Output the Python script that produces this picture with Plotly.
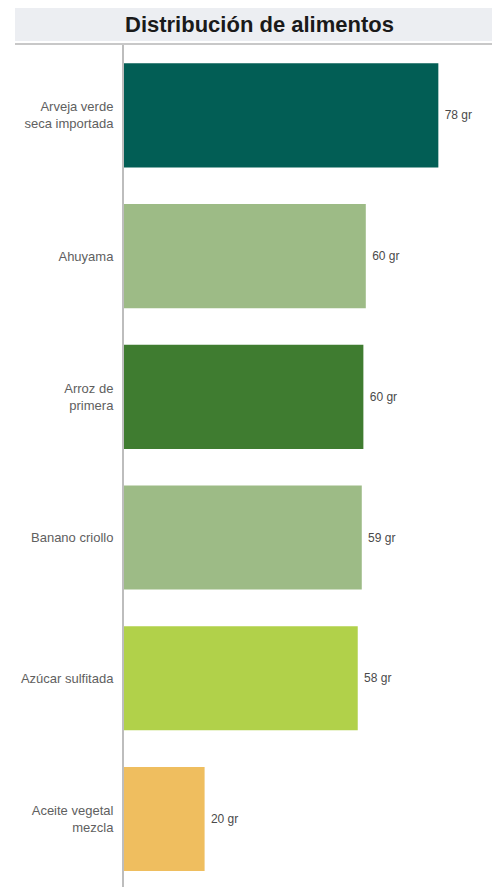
import plotly.graph_objects as go

alimentos = [
    'Arveja verde<br>seca importada',
    'Ahuyama',
    'Arroz de<br>primera',
    'Banano criollo',
    'Azúcar sulfitada',
    'Aceite vegetal<br>mezcla',
]
gramos = [78, 60, 59.4, 59, 58, 20]
etiquetas = ['78 gr', '60 gr', '60 gr', '59 gr', '58 gr', '20 gr']
colores = ['#025e55', '#9dbb86', '#3f7c30', '#9dbb86', '#b1d14a', '#efbe5f']

# the page body adds an 8px offset, so positions are given in page pixels and shifted
OFF = 8
W, H = 500, 887
ML, MT = 124 - OFF, 45 - OFF
pw, ph = W - ML, H - MT


def px_x(x):
    return (x - OFF - ML) / pw


def px_y(y):
    return (H - (y - OFF)) / ph


fig = go.Figure(
    go.Bar(
        x=gramos,
        y=alimentos,
        orientation='h',
        marker=dict(color=colores, line=dict(width=0)),
        text=etiquetas,
        texttemplate=' %{text}',
        textposition='outside',
        cliponaxis=False,
        textfont=dict(family='Liberation Sans, Arial', size=12, color='#4a4a4a'),
        hoverinfo='skip'))

fig.update_layout(
    width=W,
    height=H,
    margin=dict(l=ML, r=0, t=MT, b=0),
    paper_bgcolor='white',
    plot_bgcolor='white',
    bargap=0.26,
    showlegend=False,
    font=dict(family='Liberation Sans, Arial'),
    xaxis=dict(range=[0, pw / 4.03], visible=False),
    yaxis=dict(
        range=[5.54, -0.5],
        showline=True,
        linecolor='#bdbdbd',
        linewidth=2,
        showgrid=False,
        zeroline=False,
        ticks='',
        ticklabelstandoff=6,
        tickfont=dict(size=13, color='#606060')),
    shapes=[
        dict(type='rect', xref='paper', yref='paper',
             x0=px_x(15), x1=px_x(510), y0=px_y(41), y1=px_y(8),
             fillcolor='#eceef2', line=dict(width=0), layer='below'),
        dict(type='line', xref='paper', yref='paper',
             x0=px_x(15), x1=px_x(510), y0=px_y(44), y1=px_y(44),
             line=dict(color='#c8c8c8', width=2)),
    ],
    annotations=[
        dict(text='<b>Distribución de alimentos</b>', xref='paper', yref='paper',
             x=px_x(259), y=px_y(24), xanchor='center', yanchor='middle',
             showarrow=False, font=dict(size=22, color='#1a1a1a')),
    ])

fig.write_html("out.html")
